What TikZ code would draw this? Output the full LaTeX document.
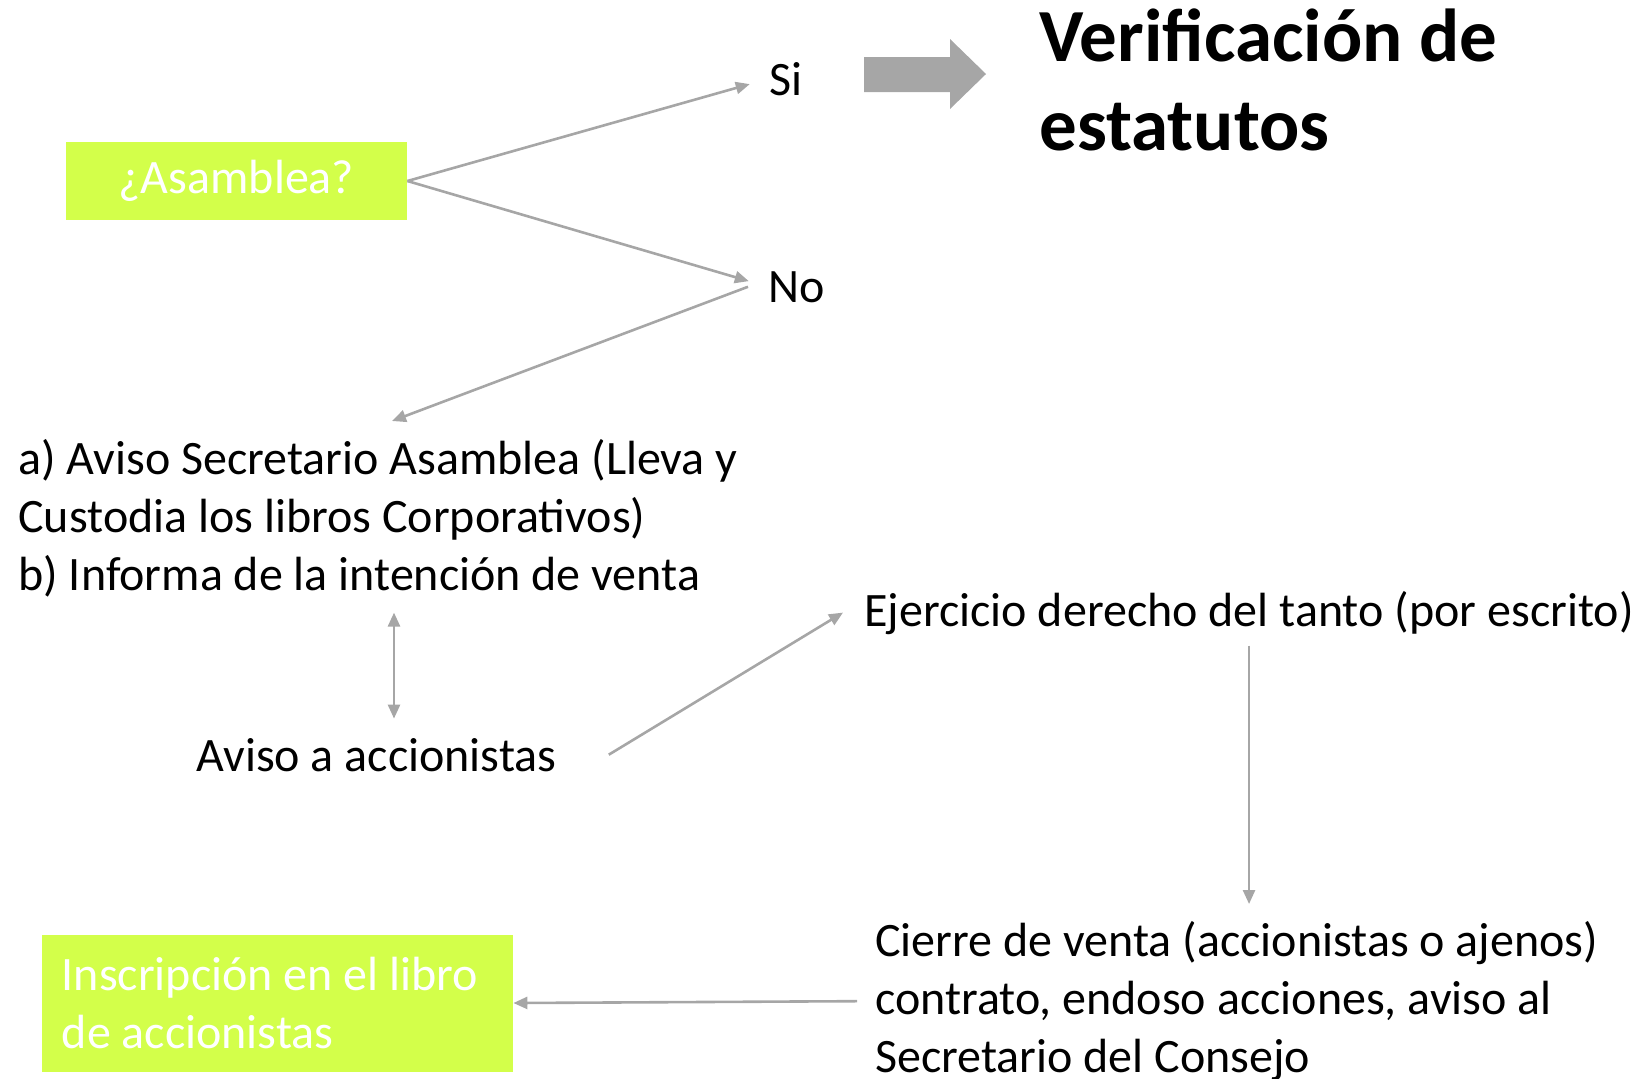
\documentclass[tikz,border=0pt]{standalone}
\usepackage{fontspec}
\setmainfont{Carlito}
\usetikzlibrary{positioning, arrows.meta, calc}
\definecolor{asmgreen}{HTML}{D3FF4A}
\definecolor{asmgray}{HTML}{A6A6A6}

\begin{document}
\begin{tikzpicture}[x=0.5pt, y=-0.5pt,
        txt/.style={inner sep=0pt, font=\fontsize{24}{29}\selectfont},
        greenbox/.style={fill=asmgreen, text=white, inner sep=0pt, font=\fontsize{24}{29}\selectfont},
        link/.style={draw=asmgray, line width=1.3pt, -{Triangle[length=7pt, width=6pt]}}
    ]
      \useasboundingbox (0,0) rectangle (1641,1078);

      % Question and answers
      \node[greenbox, minimum width=170.5pt, minimum height=39pt] (asamblea) at (236.5,181) {¿Asamblea?};
      \node[txt, anchor=base west] (si) at (769,95) {Si};
      \node[txt, anchor=base west] (no) at (768,302) {No};
      \node[anchor=base west, inner sep=0pt, font=\fontsize{37.5}{44.5}\selectfont\bfseries, align=left] (verif) at (1039,150) {Verificación de\\estatutos};

      % Big arrow towards the statutes
      \fill[asmgray] (864,57) -- (950,57) -- (950,39) -- (986,74) -- (950,109) -- (950,92) -- (864,92) -- cycle;

      % Sale steps
      \node[txt, align=left, anchor=north west] (aviso) at (18,439) {a) Aviso Secretario Asamblea (Lleva y\\Custodia los libros Corporativos)\\b) Informa de la intención de venta};
      \node[txt, anchor=base west] (accion) at (196,771) {Aviso a accionistas};
      \node[txt, anchor=base west] (tanto) at (864,626) {Ejercicio derecho del tanto (por escrito)};
      \node[txt, align=left, anchor=north west] (cierre) at (875,921) {Cierre de venta (accionistas o ajenos)\\contrato, endoso acciones, aviso al\\Secretario del Consejo};
      \node[greenbox, minimum width=235.5pt, minimum height=68.5pt, align=left] (libro) at (277.5,1003) {Inscripción en el libro\hspace*{7.5pt}\\de accionistas};

      % Connectors
      \draw[link, shorten >=10pt] (asamblea.east) -- (si.west);
      \draw[link, shorten >=10pt] (asamblea.east) -- (no.west);
      \draw[link] ($(no.west)+(-20,0)$) -- ($(aviso.north west)+(374,-18)$);
      \draw[link, {Triangle[length=7pt, width=6pt]}-{Triangle[length=7pt, width=6pt]}, shorten <=7.5pt, shorten >=9.5pt]
        ($(aviso.south west)+(376,0)$) -- ($(accion.north west)+(198,0)$);
      \draw[link] ($(accion.east)+(52,0)$) -- ($(tanto.west)+(-21,0)$);
      \draw[link, shorten <=5.5pt, shorten >=8.5pt] (tanto.south) -- (tanto.south |- cierre.north);
      \draw[link, shorten <=9pt] (cierre.west) -- (libro.east);
    \end{tikzpicture}
\end{document}
